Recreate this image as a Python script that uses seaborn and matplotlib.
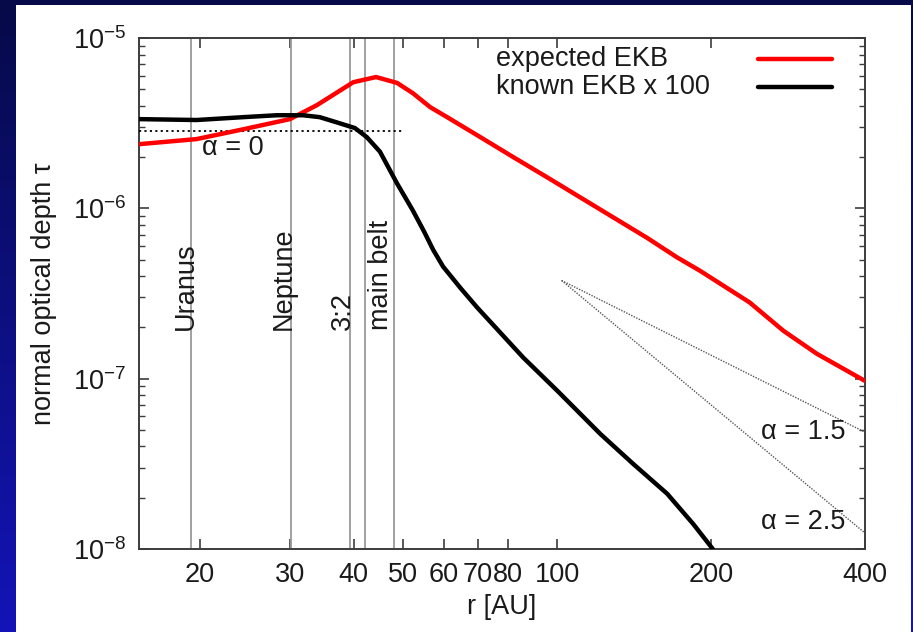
import numpy as np
import pandas as pd
import matplotlib
matplotlib.use("Agg")
import matplotlib.pyplot as plt
import matplotlib.ticker as mticker
from matplotlib.patches import Rectangle
from matplotlib.lines import Line2D
import seaborn as sns

# Radial distance [AU] and normal optical depth of the expected Edgeworth-Kuiper belt
r_expected = [15.2, 19.7, 23.9, 30.0, 33.9, 39.9, 44.2, 48.6, 52.2, 56.4,
              60.9, 70.7, 82.0, 95.6, 110.9, 128.7, 150, 171.6, 190, 238,
              277, 322, 400]
tau_expected = [2.38e-6, 2.55e-6, 2.88e-6, 3.34e-6, 4.04e-6, 5.5e-6, 5.9e-6,
                5.45e-6, 4.74e-6, 3.93e-6, 3.43e-6, 2.62e-6, 2.0e-6, 1.52e-6,
                1.16e-6, 8.85e-7, 6.7e-7, 5.15e-7, 4.31e-7, 2.8e-7, 1.91e-7,
                1.4e-7, 9.7e-8]

# Known EKB, scaled by 100
r_known = [15.2, 19.7, 24.3, 28.3, 31.8, 34.3, 37.0, 40.2, 42.4, 45.0, 48.6,
           52.2, 54.9, 57.2, 59.8, 64.7, 69.7, 85.8, 100, 121.4, 140.8, 164.1,
           184.6, 201, 205]
tau_known = [3.34e-6, 3.3e-6, 3.43e-6, 3.52e-6, 3.52e-6, 3.43e-6, 3.2e-6,
             2.96e-6, 2.62e-6, 2.15e-6, 1.4e-6, 9.7e-7, 7.3e-7, 5.7e-7,
             4.55e-7, 3.4e-7, 2.62e-7, 1.33e-7, 8.5e-8, 4.74e-8, 3.16e-8,
             2.11e-8, 1.4e-8, 1.01e-8, 9.2e-9]

# Reference power-law slopes and the flat (alpha = 0) level
r_slope = [102, 400]
tau_alpha15 = [3.77e-7, 4.85e-8]
tau_alpha25 = [3.77e-7, 1.24e-8]
r_flat = [15.2, 49.9]
tau_flat = [2.84e-6, 2.84e-6]

# Marked radii
marker_r = [19.2, 30.1, 39.4, 42.0, 48.0]
marker_labels = ["Uranus", "Neptune", "3:2", "main belt"]
marker_label_r = [18.8, 29.2, 38.1, 45.2]

x_ticks = [20, 30, 40, 50, 60, 70, 80, 100, 200, 400]

sns.set_theme(style="white")
plt.rcParams["font.family"] = ["Liberation Sans", "DejaVu Sans"]
plt.rcParams["mathtext.fontset"] = "custom"
plt.rcParams["mathtext.rm"] = "Liberation Sans"
plt.rcParams["mathtext.it"] = "Liberation Sans:italic"
plt.rcParams["mathtext.default"] = "regular"

FS = 19.5
edge = "#3c3c3c"
txt = "#1a1a1a"

fig = plt.figure(figsize=(9.13, 6.32), dpi=100)

# Slide background: navy gradient with a white panel
bg = fig.add_axes([0, 0, 1, 1], zorder=-10)
top_c = np.array([6, 10, 72]) / 255
bot_c = np.array([20, 20, 184]) / 255
t = np.linspace(0, 1, 256)[:, None]
grad = (top_c[None, :] * (1 - t) + bot_c[None, :] * t)[:, None, :]
bg.imshow(grad, aspect="auto", extent=[0, 1, 0, 1], origin="upper")
bg.add_patch(Rectangle((16 / 913, 0), (911 - 16) / 913, (632 - 5) / 632,
                       facecolor="white", edgecolor="none"))
bg.set_xlim(0, 1)
bg.set_ylim(0, 1)
bg.axis("off")

ax = fig.add_axes([139 / 913, 1 - 549 / 632, (865 - 139) / 913, (549 - 38) / 632])
ax.set_facecolor("white")

df_exp = pd.DataFrame({"r": r_expected, "tau": tau_expected})
df_known = pd.DataFrame({"r": r_known, "tau": tau_known})

for rv in marker_r:
    ax.axvline(rv, color="#9a9a9a", lw=1.3, zorder=1)

sns.lineplot(data=df_exp, x="r", y="tau", color="#ff0000", lw=3.2,
             sort=False, estimator=None, ax=ax, zorder=4)
sns.lineplot(data=df_known, x="r", y="tau", color="black", lw=3.2,
             sort=False, estimator=None, ax=ax, zorder=5)
sns.lineplot(x=r_flat, y=tau_flat, color="black", lw=1.3, ls=(0, (1.2, 1.8)),
             estimator=None, ax=ax, zorder=3)
sns.lineplot(x=r_slope, y=tau_alpha15, color="#555555", lw=1.0, ls=(0, (1, 1)),
             estimator=None, ax=ax, zorder=3)
sns.lineplot(x=r_slope, y=tau_alpha25, color="#555555", lw=1.0, ls=(0, (1, 1)),
             estimator=None, ax=ax, zorder=3)

ax.set_xscale("log")
ax.set_yscale("log")
ax.set_xlim(15.2, 400)
ax.set_ylim(1e-8, 1e-5)

ax.xaxis.set_major_locator(mticker.FixedLocator(x_ticks))
ax.xaxis.set_major_formatter(mticker.FixedFormatter([str(v) for v in x_ticks]))
ax.xaxis.set_minor_locator(mticker.NullLocator())
ax.yaxis.set_major_locator(mticker.LogLocator(base=10))
ax.yaxis.set_minor_locator(mticker.LogLocator(base=10, subs=np.arange(2, 10)))
ax.yaxis.set_minor_formatter(mticker.NullFormatter())
ax.yaxis.set_major_formatter(mticker.FuncFormatter(
    lambda v, p: r"$10^{%d}$" % int(round(np.log10(v)))))

ax.tick_params(which="both", direction="in", top=True, right=True,
               bottom=True, left=True, colors=edge, labelcolor=txt,
               labelsize=FS)
ax.tick_params(which="major", length=7, width=1.2, pad=9)
ax.tick_params(which="minor", length=4, width=1.0)
for s in ax.spines.values():
    s.set_color(edge)
    s.set_linewidth(1.4)

ax.set_xlabel("r [AU]", fontsize=FS, color=txt, labelpad=5)
ax.set_ylabel("normal optical depth τ", fontsize=FS, color=txt, labelpad=12)

# Labels for the marked radii
trans = ax.get_xaxis_transform()
for name, rv in zip(marker_labels, marker_label_r):
    ax.text(rv, 0.4286, name, transform=trans, rotation=90, ha="center",
            va="bottom", fontsize=FS, color=txt)

ax.text(23.2, 2.25e-6, "α = 0", ha="center", va="center", fontsize=FS, color=txt)
ax.text(303, 4.88e-8, "α = 1.5", ha="center", va="center", fontsize=FS, color=txt)
ax.text(303, 1.44e-8, "α = 2.5", ha="center", va="center", fontsize=FS, color=txt)

# Key
key = [("expected EKB", "#ff0000", 0.959), ("known EKB x 100", "black", 0.904)]
for label, col, yk in key:
    ax.text(0.4917, yk, label, transform=ax.transAxes, ha="left", va="center",
            fontsize=FS, color=txt)
    ax.add_line(Line2D([0.8526, 0.9545], [yk, yk], transform=ax.transAxes,
                       color=col, lw=3.2))

fig.savefig("out.png", dpi=100)
